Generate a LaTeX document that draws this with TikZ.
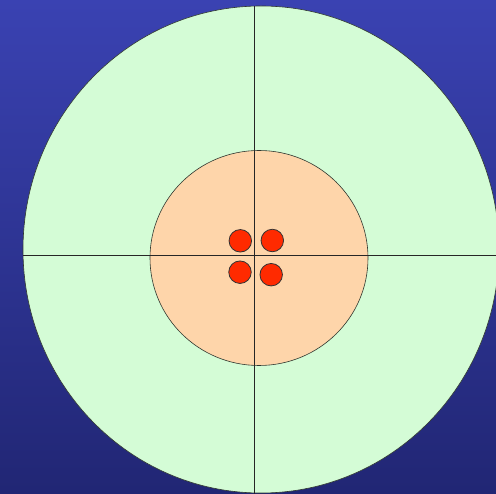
\documentclass[tikz,border=0pt]{standalone}
\definecolor{bgtop}{HTML}{3A42B2}
\definecolor{bgbot}{HTML}{212674}
\definecolor{outerfill}{HTML}{D4FCD6}
\definecolor{innerfill}{HTML}{FED5AA}
\definecolor{dotfill}{HTML}{FF2A00}
\definecolor{edge}{HTML}{303830}
\tikzset{
  ring/.style={draw=edge, line width=0.6pt},
  axisline/.style={draw=black!85, line width=0.9pt},
  dotstyle/.style={circle, draw=black!80, line width=0.8pt, fill=dotfill, minimum size=22.5pt, inner sep=0pt}
}
\begin{document}
\begin{tikzpicture}[x=1pt,y=-1pt]
\useasboundingbox (0,0) rectangle (496,494);
\clip (0,0) rectangle (496,494);
\shade[top color=bgtop, bottom color=bgbot] (0,0) rectangle (496,494);
\draw[ring, fill=outerfill] (261,249.5) ellipse [x radius=238, y radius=243.5];
\draw[ring, fill=innerfill] (259,258) ellipse [x radius=109, y radius=107.5];
\coordinate (vtop) at (254.5,6);
\coordinate (vbot) at (254.5,494);
\coordinate (hleft) at (23,255.5);
\coordinate (hright) at (496,255.5);
\draw[axisline] (vtop) -- (vbot);
\draw[axisline] (hleft) -- (hright);
\node[dotstyle] (d1) at (240.3,240.8) {};
\node[dotstyle] (d2) at (272.3,240.5) {};
\node[dotstyle] (d3) at (240,272.2) {};
\node[dotstyle] (d4) at (271.2,274.7) {};
\end{tikzpicture}
\end{document}
